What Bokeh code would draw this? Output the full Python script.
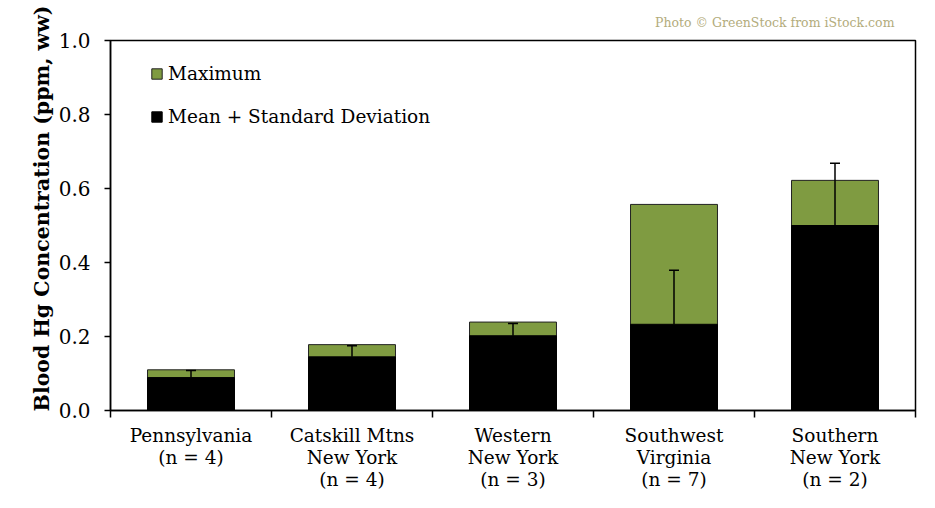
from bokeh.plotting import figure
from bokeh.models import (Range1d, FixedTicker, PrintfTickFormatter, Whisker, TeeHead,
                          ColumnDataSource, Legend, LegendItem, Title)
from bokeh.embed import file_html
from bokeh.resources import INLINE

# ---- data ----
categories = ["Pennsylvania\n(n = 4)", "Catskill Mtns\nNew York\n(n = 4)",
              "Western\nNew York\n(n = 3)", "Southwest\nVirginia\n(n = 7)",
              "Southern\nNew York\n(n = 2)"]
maximum = [0.110, 0.178, 0.239, 0.557, 0.622]
mean = [0.089, 0.145, 0.202, 0.233, 0.500]
std_dev = [0.019, 0.030, 0.033, 0.146, 0.168]
y_ticks = [0.0, 0.2, 0.4, 0.6, 0.8, 1.0]

FONT = "DejaVu Serif"
GREEN = "#7f9b41"

xpos = [i + 0.5 for i in range(len(categories))]
src = ColumnDataSource(dict(x=xpos, maximum=maximum, mean=mean,
                            upper=[m + s for m, s in zip(mean, std_dev)]))

p = figure(width=919, height=492, output_backend="svg", toolbar_location=None,
           x_range=Range1d(0, len(categories)), y_range=Range1d(0, 1.0),
           min_border_left=110, min_border_right=4, min_border_top=40, min_border_bottom=75)
p.xgrid.visible = False
p.ygrid.visible = False
p.outline_line_color = "black"
p.outline_line_width = 1.5
p.background_fill_color = "white"
p.border_fill_color = "white"

r_max = p.vbar(x="x", top="maximum", width=0.54, source=src, fill_color=GREEN,
               line_color="#222222", line_width=1)
r_mean = p.vbar(x="x", top="mean", width=0.54, source=src, fill_color="black",
                line_color="black", line_width=1)

wh = Whisker(base="x", lower="mean", upper="upper", source=src, dimension="height",
             line_color="black", line_width=1.5, level="overlay",
             upper_head=TeeHead(size=10, line_color="black", line_width=1.5),
             lower_head=None)
p.add_layout(wh)

# x axis: labels at centres, ticks at boundaries
xa = p.xaxis[0]
xa.ticker = FixedTicker(ticks=xpos, minor_ticks=list(range(len(categories) + 1)))
xa.major_label_overrides = {x: c for x, c in zip(xpos, categories)}
xa.major_tick_out = 0
xa.major_tick_in = 0
xa.minor_tick_out = 7
xa.minor_tick_in = 0
xa.minor_tick_line_color = "black"
xa.minor_tick_line_width = 1.5
xa.axis_line_width = 1.5
xa.axis_line_color = "black"
xa.major_label_text_font = FONT
xa.major_label_text_font_size = "18.5px"
xa.major_label_text_line_height = 1.05
xa.major_label_text_color = "black"
xa.major_label_standoff = 7

ya = p.yaxis[0]
ya.ticker = FixedTicker(ticks=y_ticks, minor_ticks=[])
ya.formatter = PrintfTickFormatter(format="%.1f")
ya.major_tick_out = 6
ya.major_tick_in = 0
ya.major_tick_line_width = 1.5
ya.axis_line_width = 1.5
ya.major_label_text_font = FONT
ya.major_label_text_font_size = "20px"
ya.major_label_text_color = "black"
ya.major_label_standoff = 14

# y title (left panel, aligned like the reference)
p.add_layout(Title(text="Blood Hg Concentration (ppm, ww)", align="right", offset=-35,
                   text_font=FONT, text_font_style="bold", text_font_size="20.5px",
                   text_color="black", standoff=4), "left")

# photo credit
p.add_layout(Title(text="Photo \u00a9 GreenStock from iStock.com", align="right", offset=21,
                   text_font=FONT, text_font_size="12.5px", text_font_style="normal",
                   text_color="#b3ac7c", standoff=22), "above")

legend = Legend(items=[LegendItem(label="Maximum", renderers=[r_max]),
                       LegendItem(label="Mean + Standard Deviation", renderers=[r_mean])],
                location=(40, 283), border_line_color=None, background_fill_alpha=0,
                label_text_font=FONT, label_text_font_size="18.5px", label_text_color="black",
                glyph_width=13, glyph_height=13, label_standoff=5, spacing=22,
                padding=0, margin=0)
p.add_layout(legend)

open("out.html", "w").write(file_html(p, INLINE))
